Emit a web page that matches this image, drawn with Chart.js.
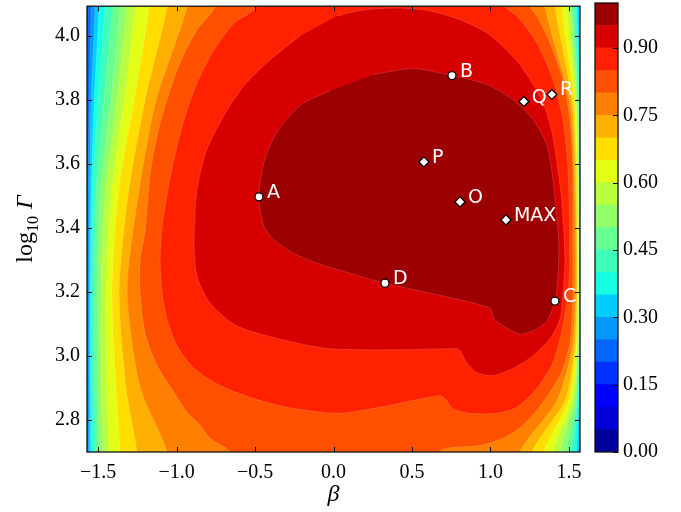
<!DOCTYPE html>
<html>
<head>
<meta charset="utf-8">
<script src="https://cdn.jsdelivr.net/npm/chart.js@4.4.0/dist/chart.umd.min.js"></script>
<style>
  body { margin: 0; background: #fff; }
  #wrap { position: relative; width: 681px; height: 512px; }
  #main { position: absolute; left: 0; top: 0; }
  #cbar { position: absolute; left: 560px; top: 0; }
</style>
</head>
<body>
<div id="wrap">
  <canvas id="main" width="681" height="512"></canvas>
  <canvas id="cbar" width="121" height="512"></canvas>
</div>
<script>
// axis ranges and ticks
const xMin = -1.5708, xMax = 1.5708
const yMin = 2.699, yMax = 4.093
const xTicks = [-1.5, -1.0, -0.5, 0.0, 0.5, 1.0, 1.5]
const yTicks = [2.8, 3.0, 3.2, 3.4, 3.6, 3.8, 4.0]
const cbarTicks = [0.00, 0.15, 0.30, 0.45, 0.60, 0.75, 0.90]
const cbarLevels = [0, 0.05, 0.10, 0.15, 0.20, 0.25, 0.30, 0.35, 0.40, 0.45, 0.50,
  0.55, 0.60, 0.65, 0.70, 0.75, 0.80, 0.85, 0.90, 0.95, 1.0]

// outer contours, read as (left edge, right edge) beta positions per row of log10 Gamma
const edgeLevels = [0.20, 0.25, 0.30, 0.35, 0.40, 0.45, 0.50, 0.55, 0.60, 0.65, 0.70, 0.75]
const leftRowsY = [4.093, 3.798, 3.5, 3.199, 2.901, 2.699]
const leftContourX = [
  [-1.564, -1.570, -1.580, -1.580, -1.580, -1.580],
  [-1.545, -1.557, -1.564, -1.567, -1.567, -1.564],
  [-1.519, -1.545, -1.554, -1.557, -1.557, -1.557],
  [-1.494, -1.525, -1.545, -1.551, -1.551, -1.548],
  [-1.455, -1.500, -1.532, -1.538, -1.538, -1.532],
  [-1.411, -1.462, -1.513, -1.522, -1.522, -1.516],
  [-1.360, -1.417, -1.487, -1.503, -1.503, -1.494],
  [-1.315, -1.379, -1.455, -1.481, -1.481, -1.468],
  [-1.264, -1.334, -1.417, -1.449, -1.443, -1.430],
  [-1.175, -1.271, -1.373, -1.411, -1.386, -1.360],
  [-1.060, -1.201, -1.309, -1.366, -1.322, -1.252],
  [-0.933, -1.131, -1.245, -1.315, -1.232, -1.060],
]
const rightRowsY = [4.093, 3.79, 3.48, 3.2, 3.02, 2.86, 2.699]
const rightContourX = [
  [1.600, 1.600, 1.600, 1.600, 1.600, 1.600, 1.600],
  [1.572, 1.580, 1.580, 1.580, 1.580, 1.580, 1.572],
  [1.564, 1.575, 1.575, 1.575, 1.575, 1.568, 1.564],
  [1.554, 1.570, 1.572, 1.572, 1.571, 1.564, 1.551],
  [1.545, 1.566, 1.569, 1.569, 1.569, 1.557, 1.532],
  [1.532, 1.562, 1.567, 1.567, 1.566, 1.551, 1.513],
  [1.519, 1.557, 1.564, 1.565, 1.562, 1.545, 1.481],
  [1.506, 1.551, 1.561, 1.562, 1.557, 1.532, 1.443],
  [1.487, 1.545, 1.557, 1.559, 1.551, 1.519, 1.398],
  [1.455, 1.535, 1.553, 1.555, 1.545, 1.500, 1.341],
  [1.411, 1.522, 1.546, 1.550, 1.535, 1.475, 1.264],
  [1.347, 1.506, 1.538, 1.541, 1.519, 1.424, 1.188],
]

// inner contours as closed outlines [beta, log10 Gamma]
const contour80 = [[-0.78, 4.2], [-0.755, 4.093], [-0.869, 4.019], [-0.978, 3.916], [-1.061, 3.801],
  [-1.124, 3.689], [-1.169, 3.565], [-1.201, 3.388], [-1.232, 3.301], [-1.232, 3.196], [-1.201, 3.071],
  [-1.124, 2.969], [-1.016, 2.885], [-0.933, 2.823], [-0.850, 2.783], [-0.787, 2.742], [-0.660, 2.699],
  [-0.63, 2.6], [0.70, 2.6], [0.678, 2.699], [0.723, 2.711], [0.933, 2.720], [1.080, 2.742],
  [1.207, 2.783], [1.334, 2.854], [1.443, 2.938], [1.506, 3.040], [1.525, 3.196], [1.525, 3.388],
  [1.525, 3.584], [1.506, 3.739], [1.462, 3.863], [1.379, 3.978], [1.296, 4.062], [1.252, 4.093], [1.24, 4.2]]
const contour85 = [[-0.52, 4.2], [-0.487, 4.093], [-0.634, 4.040], [-0.761, 3.957], [-0.869, 3.854],
  [-0.952, 3.739], [-1.016, 3.615], [-1.061, 3.503], [-1.092, 3.404], [-1.105, 3.301], [-1.092, 3.196],
  [-1.061, 3.115], [-0.997, 3.031], [-0.888, 2.960], [-0.723, 2.907], [-0.506, 2.866], [-0.296, 2.839],
  [0.022, 2.820], [0.296, 2.839], [0.678, 2.876], [0.710, 2.866], [0.761, 2.835], [0.869, 2.820],
  [1.041, 2.820], [1.169, 2.839], [1.296, 2.898], [1.398, 2.978], [1.462, 3.093], [1.494, 3.196],
  [1.506, 3.301], [1.494, 3.584], [1.462, 3.739], [1.398, 3.863], [1.296, 3.978], [1.169, 4.062],
  [1.092, 4.093], [1.06, 4.2]]
const contour90 = [[0.022, 4.062], [0.188, 4.081], [0.404, 4.087], [0.615, 4.078], [0.825, 4.047],
  [0.997, 4.003], [1.188, 3.910], [1.334, 3.792], [1.392, 3.699], [1.430, 3.584], [1.455, 3.481],
  [1.475, 3.301], [1.462, 3.196], [1.443, 3.115], [1.379, 3.053], [1.271, 3.000], [1.143, 2.960],
  [1.016, 2.938], [0.914, 2.947], [0.850, 2.978], [0.806, 3.016], [0.787, 3.022], [0.404, 3.019],
  [-0.022, 3.022], [-0.296, 3.047], [-0.615, 3.093], [-0.787, 3.165], [-0.869, 3.248], [-0.888, 3.351],
  [-0.869, 3.522], [-0.806, 3.646], [-0.697, 3.752], [-0.570, 3.845], [-0.404, 3.925], [-0.213, 4.000]]
const contour95 = [[-0.022, 3.829], [-0.213, 3.783], [-0.360, 3.699], [-0.443, 3.606], [-0.475, 3.497],
  [-0.443, 3.404], [-0.379, 3.363], [-0.252, 3.320], [-0.086, 3.286], [0.022, 3.270], [0.328, 3.227],
  [0.615, 3.196], [0.997, 3.149], [1.022, 3.115], [1.105, 3.087], [1.188, 3.068], [1.271, 3.078],
  [1.360, 3.109], [1.411, 3.171], [1.430, 3.248], [1.436, 3.342], [1.424, 3.429], [1.398, 3.553],
  [1.360, 3.658], [1.271, 3.739], [1.143, 3.801], [0.978, 3.848], [0.755, 3.876], [0.506, 3.898],
  [0.252, 3.879]]

// marked points
const circleNames = ['A', 'B', 'C', 'D']
const circleX = [-0.475, 0.755, 1.411, 0.328]
const circleY = [3.497, 3.876, 3.171, 3.227]
const diamondNames = ['P', 'O', 'MAX', 'Q', 'R']
const diamondX = [0.576, 0.806, 1.099, 1.213, 1.392]
const diamondY = [3.606, 3.481, 3.425, 3.795, 3.817]

// matplotlib jet
const jetR = [[0, 0], [0.35, 0], [0.66, 1], [0.89, 1], [1, 0.5]]
const jetG = [[0, 0], [0.125, 0], [0.375, 1], [0.64, 1], [0.91, 0], [1, 0]]
const jetB = [[0, 0.5], [0.11, 1], [0.34, 1], [0.65, 0], [1, 0]]
function channel(t, pts) {
  for (let k = 1; k < pts.length; k++) {
    if (t <= pts[k][0]) {
      const a = pts[k - 1], b = pts[k]
      return a[1] + (b[1] - a[1]) * (t - a[0]) / (b[0] - a[0])
    }
  }
  return pts[pts.length - 1][1]
}
function jet(t) {
  const c = p => Math.round(255 * channel(t, p))
  return 'rgb(' + c(jetR) + ',' + c(jetG) + ',' + c(jetB) + ')'
}
// band colour for the band starting at level lo
function bandColor(lo) {
  return jet(lo + 0.025)
}

const serif = "'Liberation Serif', 'DejaVu Serif', serif"
const minus = v => (v < 0 ? '\u2212' : '') + Math.abs(v).toFixed(1)
const noPad = axis => { axis.paddingTop = 0; axis.paddingBottom = 0; axis.paddingLeft = 0; axis.paddingRight = 0 }

function edgePolygon(i) {
  const L = leftContourX[i], R = rightContourX[i]
  const pts = [{ x: L[L.length - 1], y: 2.6 }]
  for (let k = leftRowsY.length - 1; k >= 0; k--) pts.push({ x: L[k], y: leftRowsY[k] })
  pts.push({ x: L[0], y: 4.2 })
  pts.push({ x: R[0], y: 4.2 })
  for (let k = 0; k < rightRowsY.length; k++) pts.push({ x: R[k], y: rightRowsY[k] })
  pts.push({ x: R[R.length - 1], y: 2.6 })
  return pts
}
const toPts = arr => arr.map(p => ({ x: p[0], y: p[1] }))

const regions = []
edgeLevels.forEach((lv, i) => regions.push({ level: lv, pts: edgePolygon(i) }))
regions.push({ level: 0.80, pts: toPts(contour80) })
regions.push({ level: 0.85, pts: toPts(contour85) })
regions.push({ level: 0.90, pts: toPts(contour90) })
regions.push({ level: 0.95, pts: toPts(contour95) })

const datasets = regions.map((r, i) => ({
  type: 'line',
  data: r.pts,
  fill: 'shape',
  backgroundColor: bandColor(r.level),
  borderColor: 'rgba(255,255,255,0.25)',
  borderWidth: 0.6,
  pointRadius: 0,
  tension: 0.25,
  order: 100 - i,
}))
datasets.push({
  type: 'line',
  data: circleX.map((x, i) => ({ x: x, y: circleY[i] })),
  showLine: false,
  pointStyle: 'circle',
  pointRadius: 4,
  pointBorderWidth: 1.2,
  pointBackgroundColor: '#fff',
  pointBorderColor: '#000',
  order: 1,
})
datasets.push({
  type: 'line',
  data: diamondX.map((x, i) => ({ x: x, y: diamondY[i] })),
  showLine: false,
  pointStyle: 'rectRot',
  pointRadius: 5,
  pointBorderWidth: 1.2,
  pointBackgroundColor: '#fff',
  pointBorderColor: '#000',
  order: 0,
})

const background = {
  id: 'background',
  beforeDatasetsDraw(chart) {
    const { ctx, chartArea: a } = chart
    ctx.save()
    ctx.fillStyle = bandColor(0.15)
    ctx.fillRect(a.left, a.top, a.width, a.height)
    ctx.restore()
  },
}

const decorations = {
  id: 'decorations',
  afterDatasetsDraw(chart) {
    const { ctx, chartArea: a, scales } = chart
    const x = scales.x, y = scales.y
    ctx.save()
    // point labels
    ctx.fillStyle = '#fff'
    ctx.font = "19px 'DejaVu Sans', sans-serif"
    ctx.textBaseline = 'alphabetic'
    const nC = chart.data.datasets.length
    const circles = chart.getDatasetMeta(nC - 2).data
    const diamonds = chart.getDatasetMeta(nC - 1).data
    circles.forEach((p, i) => ctx.fillText(circleNames[i], p.x + 8, p.y + 1))
    diamonds.forEach((p, i) => ctx.fillText(diamondNames[i], p.x + 8, p.y + 1))

    // inward ticks and frame
    ctx.strokeStyle = '#000'
    ctx.lineWidth = 1
    ctx.beginPath()
    xTicks.forEach(v => {
      const px = Math.round(x.getPixelForValue(v)) + 0.5
      ctx.moveTo(px, a.bottom); ctx.lineTo(px, a.bottom - 5)
      ctx.moveTo(px, a.top); ctx.lineTo(px, a.top + 5)
    })
    yTicks.forEach(v => {
      const py = Math.round(y.getPixelForValue(v)) + 0.5
      ctx.moveTo(a.left, py); ctx.lineTo(a.left + 5, py)
      ctx.moveTo(a.right, py); ctx.lineTo(a.right - 5, py)
    })
    ctx.stroke()
    ctx.strokeStyle = '#111'
    ctx.lineWidth = 1.3
    ctx.strokeRect(a.left, a.top, a.width, a.height)

    // axis titles
    ctx.fillStyle = '#000'
    ctx.textAlign = 'center'
    ctx.font = 'italic 24px ' + serif
    ctx.fillText('\u03b2', (a.left + a.right) / 2, 501)

    ctx.translate(32, (a.top + a.bottom) / 2)
    ctx.rotate(-Math.PI / 2)
    ctx.textAlign = 'left'
    const fBig = '24px ' + serif, fSub = '16px ' + serif, fIt = 'italic 24px ' + serif
    ctx.font = fBig; const w1 = ctx.measureText('log').width
    ctx.font = fSub; const w2 = ctx.measureText('10').width
    ctx.font = fIt; const w3 = ctx.measureText('\u0393').width
    const gap = 7
    let cx = -(w1 + w2 + gap + w3) / 2
    ctx.font = fBig; ctx.fillText('log', cx, 0); cx += w1
    ctx.font = fSub; ctx.fillText('10', cx, 6); cx += w2 + gap
    ctx.font = fIt; ctx.fillText('\u0393', cx, 0)
    ctx.restore()
  },
}

new Chart(document.getElementById('main'), {
  type: 'line',
  data: { datasets: datasets },
  options: {
    responsive: false,
    animation: false,
    events: [],
    layout: { padding: { left: 0, top: 3, right: 101, bottom: 0 } },
    plugins: { legend: { display: false }, tooltip: { enabled: false } },
    scales: {
      x: {
        type: 'linear',
        min: xMin,
        max: xMax,
        afterBuildTicks: axis => { axis.ticks = xTicks.map(v => ({ value: v })) },
        afterFit: axis => { axis.height = 60; noPad(axis) },
        grid: { display: false, drawTicks: false },
        border: { display: false },
        ticks: { padding: 9, color: '#000', font: { family: serif, size: 20 }, callback: v => minus(v), maxRotation: 0 },
      },
      y: {
        type: 'linear',
        min: yMin,
        max: yMax,
        afterBuildTicks: axis => { axis.ticks = yTicks.map(v => ({ value: v })) },
        afterFit: axis => { axis.width = 87; noPad(axis) },
        grid: { display: false, drawTicks: false },
        border: { display: false },
        ticks: { padding: 7, color: '#000', font: { family: serif, size: 20 }, callback: v => v.toFixed(1) },
      },
    },
  },
  plugins: [background, decorations],
})

// colour bar
const cbarFrame = {
  id: 'cbarFrame',
  afterDatasetsDraw(chart) {
    const { ctx, chartArea: a, scales } = chart
    ctx.save()
    ctx.strokeStyle = '#000'
    ctx.lineWidth = 1
    ctx.beginPath()
    cbarTicks.forEach(v => {
      const py = Math.round(scales.y.getPixelForValue(v)) + 0.5
      ctx.moveTo(a.right, py); ctx.lineTo(a.right - 5, py)
    })
    ctx.stroke()
    ctx.strokeStyle = '#111'
    ctx.lineWidth = 1.3
    ctx.strokeRect(a.left, a.top, a.width, a.height)
    ctx.restore()
  },
}

new Chart(document.getElementById('cbar'), {
  type: 'bar',
  data: {
    labels: [''],
    datasets: cbarLevels.slice(0, -1).map((lo, i) => ({
      data: [cbarLevels[i + 1] - lo],
      backgroundColor: bandColor(lo),
      borderWidth: 0,
      barPercentage: 1,
      categoryPercentage: 1,
    })),
  },
  options: {
    responsive: false,
    animation: false,
    events: [],
    layout: { padding: { left: 35, top: 3, right: 0, bottom: 60 } },
    plugins: { legend: { display: false }, tooltip: { enabled: false } },
    scales: {
      x: { stacked: true, display: false },
      y: {
        stacked: true,
        position: 'right',
        min: 0,
        max: 1,
        afterBuildTicks: axis => { axis.ticks = cbarTicks.map(v => ({ value: v })) },
        afterFit: axis => { axis.width = 63; noPad(axis) },
        grid: { display: false, drawTicks: false },
        border: { display: false },
        ticks: { padding: 5, color: '#000', font: { family: serif, size: 20 }, callback: v => v.toFixed(2) },
      },
    },
  },
  plugins: [cbarFrame],
})
</script>
</body>
</html>
